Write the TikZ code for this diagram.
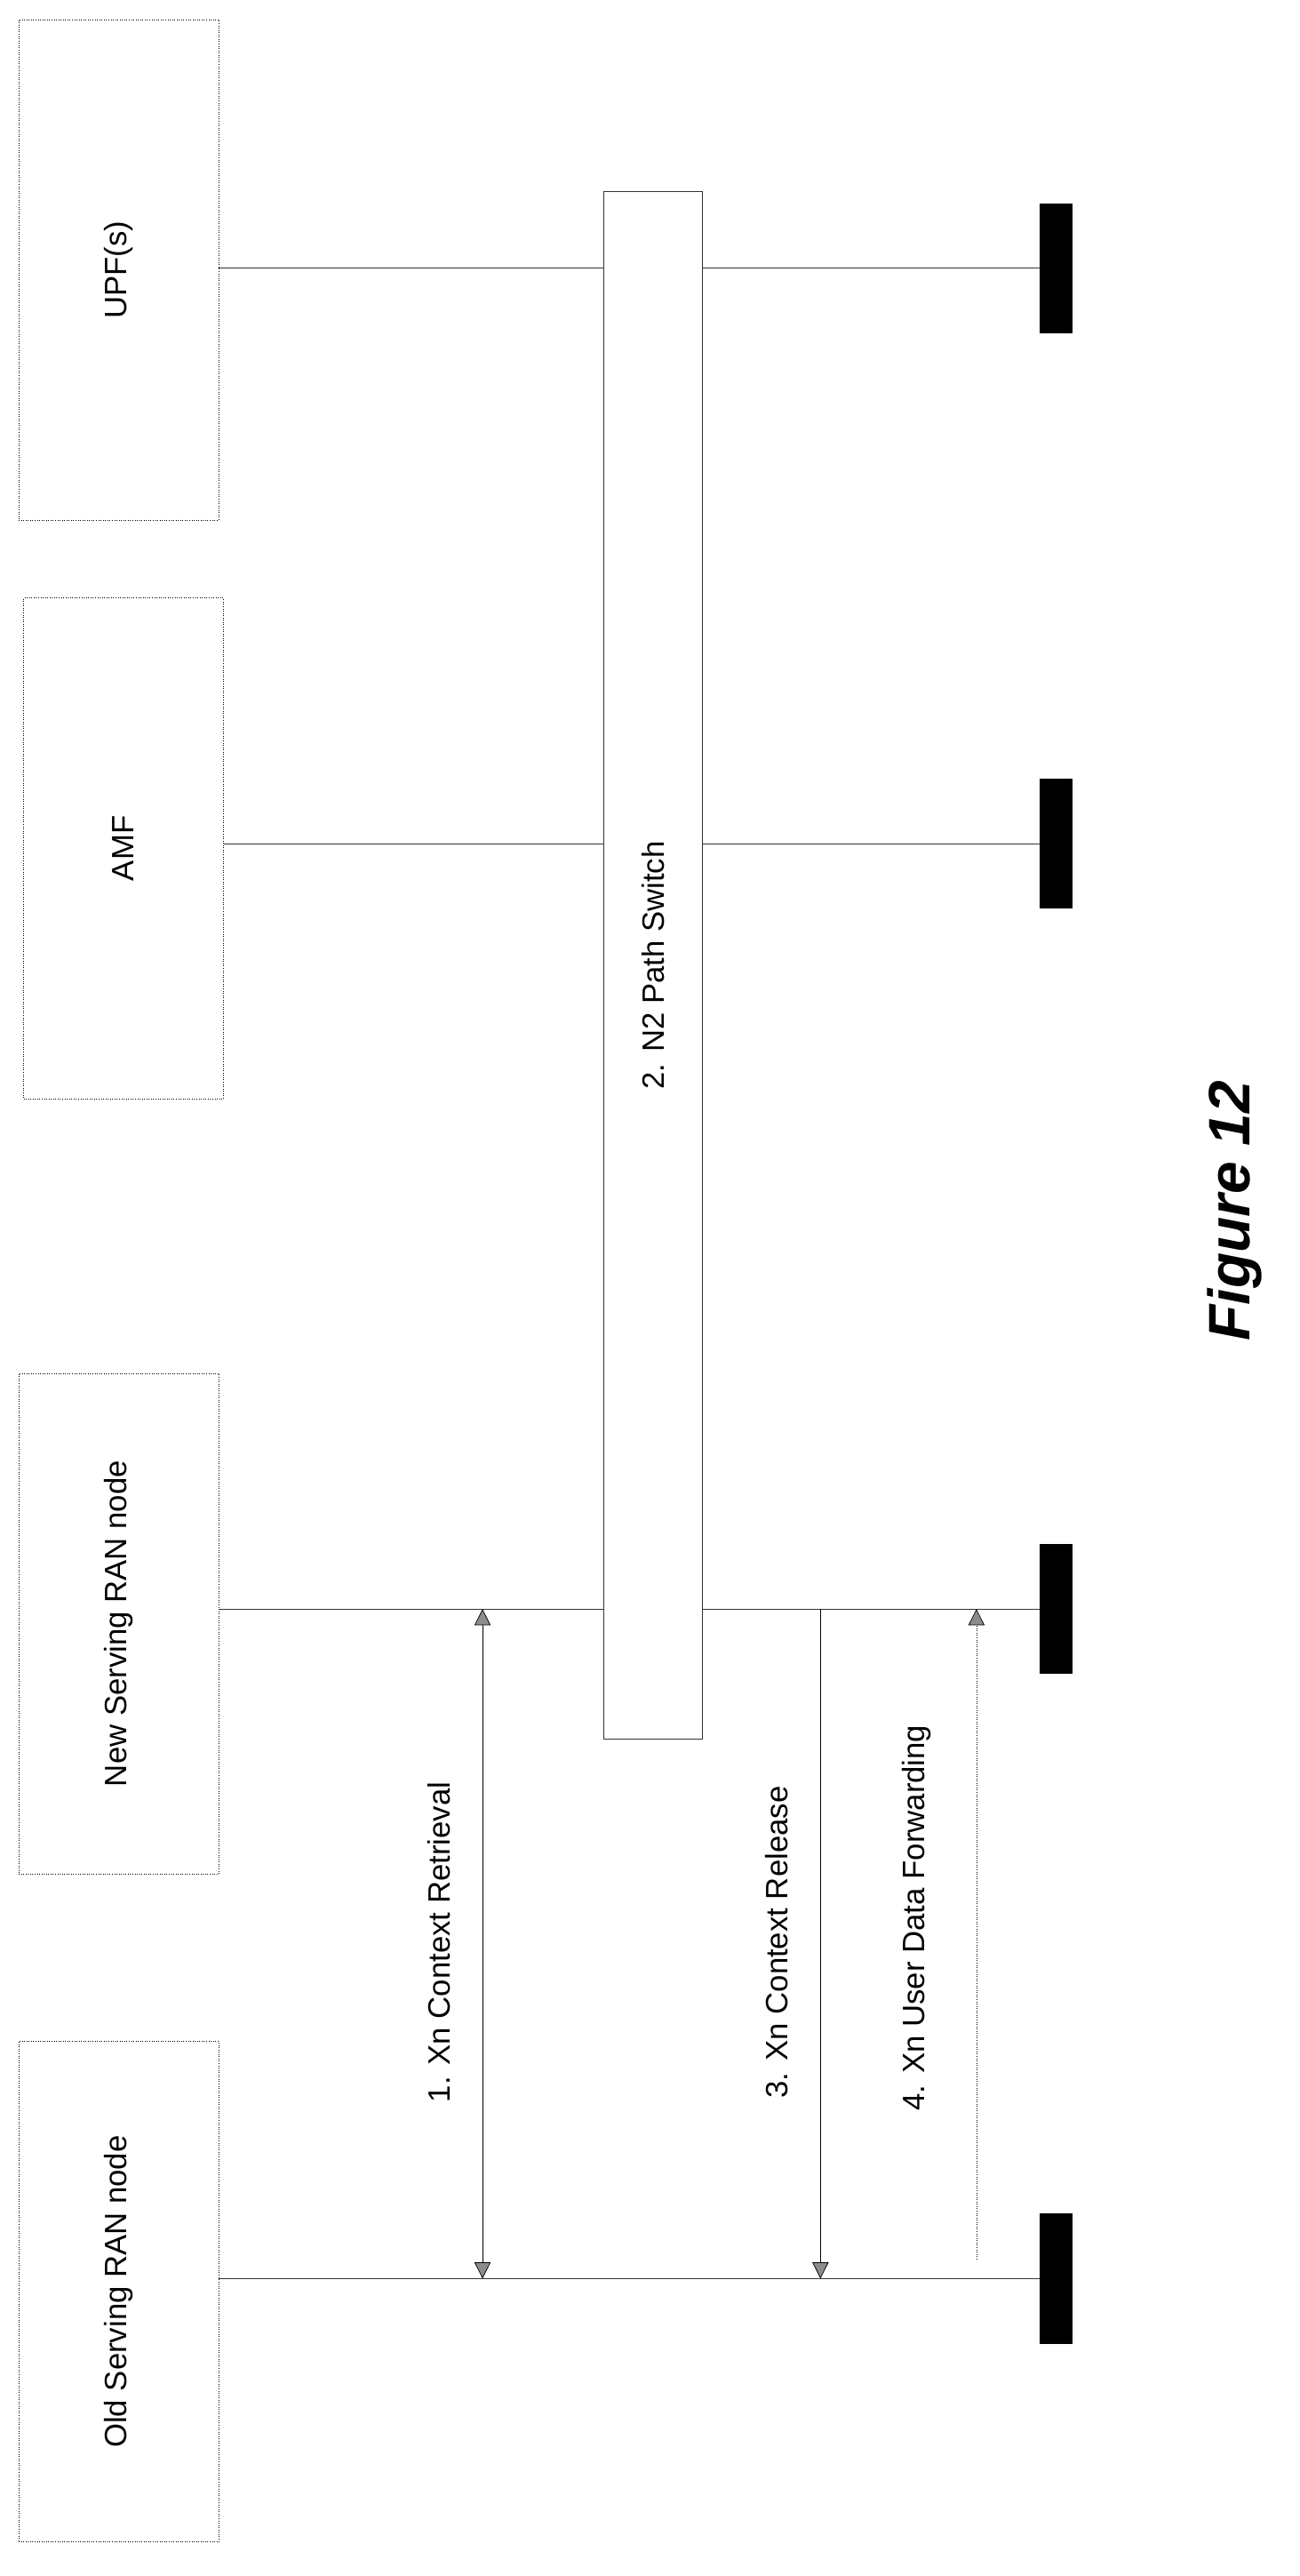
\documentclass[tikz,border=0pt]{standalone}
\usepackage{fontspec}
\setmainfont{Liberation Sans}
\usetikzlibrary{arrows.meta, positioning}
\begin{document}
\begin{tikzpicture}[x=1pt, y=-1pt]
    \tikzstyle{entity} = [rectangle, draw=black, densely dotted, minimum width=123pt, minimum height=308pt, inner sep=0pt]
    \tikzstyle{label} = [rotate=90, font=\fontsize{19}{22}\selectfont]
    \tikzstyle{life} = [draw=black!80, thin]
    \tikzstyle{bar} = [rectangle, fill=black, minimum width=20pt, minimum height=80pt, inner sep=0pt]
    \tikzstyle{msg} = [draw=black, thin, -{Triangle[width=10pt,length=10pt,fill=black!45]}]
    \useasboundingbox (0,0) rectangle (800,1585);

    % entities
    \node[entity] (old) at (73,1410) {};
    \node[label] at (old.center) {Old Serving RAN node};
    \node[entity] (new) at (73,999) {};
    \node[label] at (new.center) {New Serving RAN node};
    \node[entity] (amf) at (76,522) {};
    \node[label] at (amf.center) {AMF};
    \node[entity] (upf) at (73,166) {};
    \node[label] at (upf.center) {UPF(s)};

    % end bars
    \node[bar] (oldend) at (650,1402) {};
    \node[bar] (newend) at (650,990) {};
    \node[bar] (amfend) at (650,519) {};
    \node[bar] (upfend) at (650,165) {};

    % lifelines
    \path[life] (old.east |- oldend) -- (oldend.west);
    \path[life] (new.east |- newend) -- (newend.west);
    \path[life] (amf.east |- amfend) -- (amfend.west);
    \path[life] (upf.east |- upfend) -- (upfend.west);

    % path switch
    \node[rectangle, draw=black!80, fill=white, minimum width=61pt, minimum height=952pt] (switch) at (402,594) {};
    \node[label] at (switch.center) {2. N2 Path Switch};

    % messages
    \coordinate (m1a) at (297,990);
    \coordinate (m1b) at (297,1402);
    \path[msg, {Triangle[width=10pt,length=10pt,fill=black!45]}-{Triangle[width=10pt,length=10pt,fill=black!45]}] (m1a) -- (m1b);
    \node[label] at (270,1195) {1. Xn Context Retrieval};
    \coordinate (m3a) at (505,990);
    \coordinate (m3b) at (505,1402);
    \path[msg] (m3a) -- (m3b);
    \node[label] at (478,1195) {3. Xn Context Release};
    \coordinate (m4a) at (601,1390);
    \coordinate (m4b) at (601,990);
    \path[msg, densely dotted] (m4a) -- (m4b);
    \node[label] at (564,1180) {4. Xn User Data Forwarding};

    % caption
    \node[rotate=90, font=\bfseries\itshape\fontsize{36}{42}\selectfont] (fig) at (760,745) {Figure 12};
\end{tikzpicture}
\end{document}
